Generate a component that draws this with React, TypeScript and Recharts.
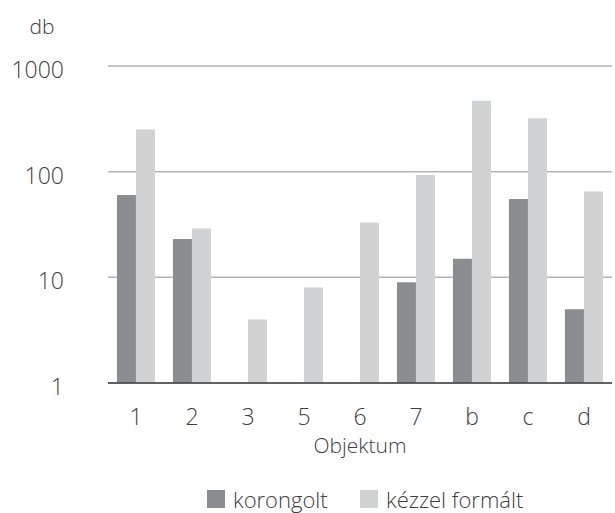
import React from 'react';
import { BarChart, Bar, XAxis, YAxis, CartesianGrid, Legend } from 'recharts';

const categories = ['1', '2', '3', '5', '6', '7', 'b', 'c', 'd'];
const korongolt = [60, 23, null, null, null, 9, 15, 55, 5];
const kezzel = [250, 29, 4, 8, 33, 93, 470, 320, 65];
const yTicks = [1, 10, 100, 1000];

const seriesNames = ['korongolt', 'kézzel formált'];
const seriesColors = ['#8b8e90', '#d1d2d4'];

const data = categories.map((c, i) => ({
  name: c,
  korongolt: korongolt[i],
  kezzel: kezzel[i],
}));

const FONT = '"Open Sans", "Noto Sans", sans-serif';
const TEXT = '#404040';

const YTick = (props: any) => {
  const { x, y, payload } = props;
  return (
    <text x={x} y={y + 4} dy="0.355em" textAnchor="end" fill={TEXT} fontSize={23} fontFamily={FONT} fontWeight={300}>
      {payload.value}
    </text>
  );
};

const LegendContent = () => (
  <div style={{ display: 'flex', alignItems: 'center', height: 24, fontFamily: FONT, fontWeight: 300, fontSize: 22, color: TEXT, whiteSpace: 'nowrap' }}>
    {seriesNames.map((n, i) => (
      <div key={n} style={{ display: 'flex', alignItems: 'center', width: i === 0 ? 153 : 'auto' }}>
        <span style={{ display: 'inline-block', width: 18, height: 18, background: seriesColors[i], marginRight: 8 }} />
        <span style={{ lineHeight: '24px' }}>{n}</span>
      </div>
    ))}
  </div>
);

export default function App() {
  return (
    <div style={{ position: 'absolute', left: 0, top: 0, width: 615, height: 513, fontFamily: FONT }}>
      <BarChart
        width={615}
        height={513}
        data={data}
        margin={{ top: 66, right: 3, left: 0, bottom: 0 }}
        barCategoryGap="16%"
        barGap={0}
      >
        <CartesianGrid vertical={false} stroke="#b3b3b3" strokeWidth={1.5} />
        <YAxis
          scale="log"
          domain={[1, 1000]}
          ticks={yTicks}
          allowDataOverflow
          width={108}
          axisLine={false}
          tickLine={false}
          tickSize={0}
          tickMargin={44}
          tick={<YTick />}
          label={{ value: 'db', position: 'top', offset: 0, content: () => (
            <text x={42} y={34} textAnchor="middle" fill={TEXT} fontSize={21} fontFamily={FONT} fontWeight={300}>db</text>
          ) }}
        />
        <XAxis
          dataKey="name"
          height={106}
          axisLine={{ stroke: '#404040', strokeWidth: 1.5 }}
          tickLine={false}
          tickSize={0}
          tickMargin={26}
          tick={{ fill: TEXT, fontSize: 23, fontFamily: FONT, fontWeight: 300 }}
          label={{ value: 'Objektum', position: 'insideBottom', offset: 36, fill: TEXT, fontSize: 21, fontFamily: FONT, fontWeight: 300 }}
        />
        <Legend
          verticalAlign="bottom"
          content={<LegendContent />}
          wrapperStyle={{ top: 487, left: 207, width: 'auto', height: 24 }}
        />
        <Bar dataKey="korongolt" name={seriesNames[0]} fill={seriesColors[0]} isAnimationActive={false} />
        <Bar dataKey="kezzel" name={seriesNames[1]} fill={seriesColors[1]} isAnimationActive={false} />
      </BarChart>
    </div>
  );
}
